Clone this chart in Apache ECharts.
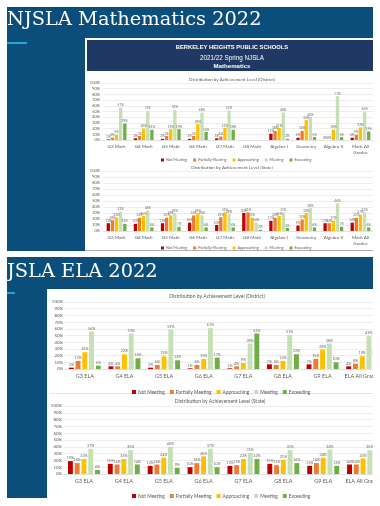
<!DOCTYPE html>
<html><head><meta charset="utf-8">
<script src="https://cdn.jsdelivr.net/npm/echarts@6/dist/echarts.min.js"></script>
<style>
html,body{margin:0;padding:0;background:#fff;}
#wrap{position:relative;width:380px;height:506px;overflow:hidden;background:#fff;}
.bg{position:absolute;}
#c{position:absolute;left:0;top:0;width:380px;height:506px;}
</style>
</head><body>
<div id="wrap">
  <div class="bg" style="left:7px;top:7px;width:366px;height:244px;background:#0c4e7b;"></div>
  <div class="bg" style="left:7px;top:42px;width:20px;height:2px;background:#2aa3dc;"></div>
  <div class="bg" style="left:85px;top:38px;width:288px;height:212px;background:#fff;border-bottom:1px solid #b0b0b0;"></div>
  <div class="bg" style="left:87px;top:40px;width:286px;height:31px;background:#1f3864;"></div>
  <div class="bg" style="left:7px;top:257px;width:366px;height:241px;background:#0c4e7b;"></div>
  <div class="bg" style="left:7px;top:292px;width:8px;height:2px;background:#2aa3dc;"></div>
  <div class="bg" style="left:47px;top:289px;width:326px;height:209px;background:#fff;"></div>
  <div class="bg" style="left:50px;top:393px;width:323px;height:1px;background:#e4e4e4;"></div>
  <div id="c"></div>
  <div class="bg" style="left:373px;top:0;width:7px;height:506px;background:#fff;z-index:5;"></div>
</div>
<script>
const levels = ['Not Meeting', 'Partially Meeting', 'Approaching', 'Meeting', 'Exceeding'];
const levelColors = ['#c00000', '#ed7d31', '#ffc000', '#c5e0b4', '#70ad47'];

const mathCategories = ['G3 Math', 'G4 Math', 'G5 Math', 'G6 Math', 'G7 Math', 'G8 Math', 'Algebra I', 'Geometry', 'Algebra II', 'Math All Grades'];
const elaCategories = ['G3 ELA', 'G4 ELA', 'G5 ELA', 'G6 ELA', 'G7 ELA', 'G8 ELA', 'G9 ELA', 'ELA All Grades'];

// Mathematics - District
const mathDistrictNotMeeting = [1, 3, 2, 2, 3, null, 11, 4, 0, 4];
const mathDistrictPartially  = [4, 7, 7, 7, 6, null, 16, 16, 0, 9];
const mathDistrictApproaching= [9, 20, 19, 28, 21, null, 21, 35, 18, 22];
const mathDistrictMeeting    = [57, 51, 53, 48, 52, null, 48, 40, 77, 50];
const mathDistrictExceeding  = [29, 18, 19, 14, 18, null, 2, 5, 5, 15];

// Mathematics - State
const mathStateNotMeeting = [13, 12, 13, 14, 10, 30, 17, 9, 13, 14];
const mathStatePartially  = [18, 22, 22, 26, 23, 31, 22, 19, 13, 22];
const mathStateApproaching= [22, 25, 26, 29, 31, 22, 25, 30, 17, 27];
const mathStateMeeting    = [32, 34, 29, 26, 28, 14, 31, 38, 46, 31];
const mathStateExceeding  = [12, 6, 7, 6, 6, 2, 5, 6, 7, 6];

// ELA - District
const elaDistrictNotMeeting = [2, 4, 2, 1, 1, 7, 7, 4];
const elaDistrictPartially  = [12, 4, 6, 6, 4, 6, 15, 8];
const elaDistrictApproaching= [25, 22, 19, 15, 9, 12, 29, 19];
const elaDistrictMeeting    = [56, 53, 59, 61, 38, 51, 38, 49];
const elaDistrictExceeding  = [5, 16, 13, 17, 53, 22, 10, 20];

// ELA - State
const elaStateNotMeeting = [19, 15, 12, 10, 12, 15, 12, 14];
const elaStatePartially  = [16, 14, 14, 16, 13, 13, 16, 14];
const elaStateApproaching= [22, 22, 24, 26, 22, 21, 24, 23];
const elaStateMeeting    = [37, 35, 40, 37, 31, 35, 36, 35];
const elaStateExceeding  = [6, 14, 9, 10, 22, 16, 12, 14];

const yMin = 0, yMax = 100, yStep = 10;

const FONT = 'Lato';
const TXT = '#595959';

function makeSeries(idx, arrays, barWidth, barGap, labelSize) {
  return arrays.map((arr, i) => ({
    type: 'bar', name: levels[i], xAxisIndex: idx, yAxisIndex: idx, data: arr,
    barWidth: barWidth, barGap: barGap,
    itemStyle: { color: levelColors[i] },
    label: { show: true, position: 'top', distance: 1, fontSize: labelSize, color: '#6a6a6a', fontFamily: FONT,
      formatter: p => (p.value == null ? '' : p.value + '%') }
  }));
}

function xAxisDef(idx, cats, fontSize, wrap) {
  return {
    type: 'category', gridIndex: idx, data: cats,
    axisLine: { lineStyle: { color: '#d9d9d9', width: 0.6 } },
    axisTick: { show: false },
    axisLabel: { interval: 0, fontSize: fontSize, color: TXT, fontFamily: FONT, margin: 4, lineHeight: fontSize + 1,
      formatter: wrap ? (v => v.replace('All ', 'All\n')) : (v => v) }
  };
}
function yAxisDef(idx, fontSize, margin) {
  return {
    type: 'value', gridIndex: idx, min: yMin, max: yMax, interval: yStep,
    axisLine: { show: false }, axisTick: { show: false },
    splitLine: { lineStyle: { color: '#e0e0e0', width: 0.6 } },
    axisLabel: { fontSize: fontSize, color: TXT, fontFamily: FONT, margin: margin, formatter: '{value}%' }
  };
}
function legendDef(left, top, fontSize, icon, gap) {
  return {
    data: levels, left: left, top: top, icon: 'rect', itemWidth: icon, itemHeight: icon, itemGap: gap,
    selectedMode: false,
    textStyle: { fontSize: fontSize, color: TXT, fontFamily: FONT, padding: [0, 0, 0, -3] }
  };
}
function txt(text, x, y, size, color, weight, family, align) {
  return { type: 'text', x: x, y: y, z: 100,
    style: { text: text, fill: color, fontSize: size, fontWeight: weight || 'normal',
      fontFamily: family || FONT, align: align || 'center', verticalAlign: 'middle' } };
}

const chart = echarts.init(document.getElementById('c'));
chart.setOption({
  backgroundColor: 'transparent',
  animation: false,
  grid: [
    { left: 103, top: 83, width: 271, height: 57, outerBoundsMode: 'none' },
    { left: 103, top: 171, width: 271, height: 60, outerBoundsMode: 'none' },
    { left: 65, top: 302, width: 317, height: 67, outerBoundsMode: 'none' },
    { left: 64, top: 406, width: 319, height: 68, outerBoundsMode: 'none' }
  ],
  xAxis: [
    xAxisDef(0, mathCategories, 4.6, true),
    xAxisDef(1, mathCategories, 4.6, true),
    xAxisDef(2, elaCategories, 5.4, false),
    xAxisDef(3, elaCategories, 5.4, false)
  ],
  yAxis: [ yAxisDef(0, 4, 3), yAxisDef(1, 4, 3), yAxisDef(2, 4.4, 2), yAxisDef(3, 4.4, 2) ],
  legend: [
    legendDef(156, 153, 3.8, 3, 6),
    legendDef(156, 241, 3.8, 3, 6),
    legendDef(127, 384.5, 4.8, 4, 5),
    legendDef(127, 488.5, 4.8, 4, 5)
  ],
  graphic: [
    txt('NJSLA Mathematics 2022', 7, 20, 19.4, '#ffffff', 'normal', 'DejaVu Serif', 'left'),
    txt('JSLA ELA 2022', 7, 271.5, 19.4, '#ffffff', 'normal', 'DejaVu Serif', 'left'),
    txt('BERKELEY HEIGHTS PUBLIC SCHOOLS', 232, 47.5, 5.8, '#ffffff', 'bold', 'Liberation Sans'),
    txt('2021/22 Spring NJSLA', 232, 58.3, 6.3, '#ffffff', 'normal', 'Liberation Sans'),
    txt('Mathematics', 232, 66.8, 6.1, '#ffffff', 'bold', 'Liberation Sans'),
    txt('Distribution by Achievement Level (District)', 232, 79.3, 4.5, TXT),
    txt('Distribution by Achievement Level (State)', 232, 167.5, 4.5, TXT),
    txt('Distribution by Achievement Level (District)', 217, 296, 5, TXT),
    txt('Distribution by Achievement Level (State)', 220, 401, 5, TXT)
  ],
  series: [].concat(
    makeSeries(0, [mathDistrictNotMeeting, mathDistrictPartially, mathDistrictApproaching, mathDistrictMeeting, mathDistrictExceeding], 3.3, '25%', 3.2),
    makeSeries(1, [mathStateNotMeeting, mathStatePartially, mathStateApproaching, mathStateMeeting, mathStateExceeding], 3.3, '25%', 3.2),
    makeSeries(2, [elaDistrictNotMeeting, elaDistrictPartially, elaDistrictApproaching, elaDistrictMeeting, elaDistrictExceeding], 4.9, '38%', 3.7),
    makeSeries(3, [elaStateNotMeeting, elaStatePartially, elaStateApproaching, elaStateMeeting, elaStateExceeding], 4.9, '38%', 3.7)
  )
});
</script>
</body></html>
